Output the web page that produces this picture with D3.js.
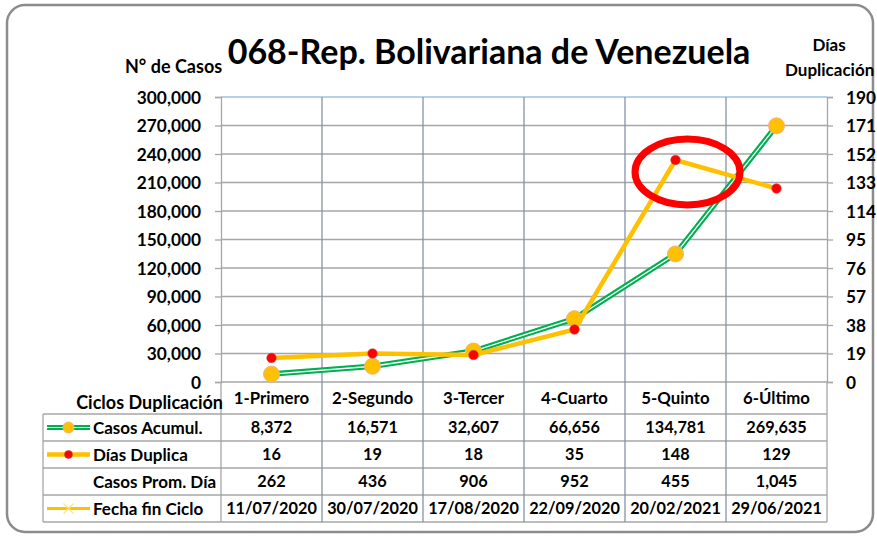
<!DOCTYPE html>
<html>
<head>
<meta charset="utf-8">
<script src="https://cdn.jsdelivr.net/npm/d3@7"></script>
<style>
  body { margin: 0; background: #fff; }
  svg text { font-family: Lato, "Liberation Sans", sans-serif; font-weight: bold; fill: #000; }
</style>
</head>
<body>
<script>
"use strict";

// chart data
const ciclos = ["1-Primero", "2-Segundo", "3-Tercer", "4-Cuarto", "5-Quinto", "6-Último"];
const casosAcumul = [8372, 16571, 32607, 66656, 134781, 269635];
const diasDuplica = [16, 19, 18, 35, 148, 129];
const casosPromDia = [262, 436, 906, 952, 455, 1045];
const fechaFinCiclo = ["11/07/2020", "30/07/2020", "17/08/2020", "22/09/2020", "20/02/2021", "29/06/2021"];
const leftTicks = [0, 30000, 60000, 90000, 120000, 150000, 180000, 210000, 240000, 270000, 300000];
const rightTicks = [0, 19, 38, 57, 76, 95, 114, 133, 152, 171, 190];
const rowNames = ["Casos Acumul.", "Días Duplica", "Casos Prom. Día", "Fecha fin Ciclo"];

var width = 877, height = 538;
var plotLeft = 221, plotRight = 827, plotTop = 97, plotBottom = 382;
var tableLeft = 43, tableTop = 414, tableBottom = 522;

var fmt = d3.format(",");

var svg = d3.select("body").append("svg")
    .attr("width", width)
    .attr("height", height);

// outer rounded frame
svg.append("rect")
    .attr("x", 7).attr("y", 5)
    .attr("width", 866).attr("height", 527)
    .attr("rx", 18).attr("ry", 18)
    .attr("fill", "#fff")
    .attr("stroke", "#8c8c8c")
    .attr("stroke-width", 2.5);

var x = d3.scaleBand().domain(ciclos).range([plotLeft, plotRight]);
var yL = d3.scaleLinear().domain([0, 300000]).range([plotBottom, plotTop]);
var yR = d3.scaleLinear().domain([0, 190]).range([plotBottom, plotTop]);
var rowY = d3.scaleBand().domain(rowNames).range([tableTop, tableBottom]);

// horizontal gridlines
svg.append("g").selectAll("line")
    .data(leftTicks)
  .enter().append("line")
    .attr("x1", plotLeft).attr("x2", plotRight)
    .attr("y1", d => yL(d)).attr("y2", d => yL(d))
    .attr("stroke", d => d === 300000 ? "#9dc3e6" : "#a6a6a6")
    .attr("stroke-width", 1.3);

// left axis
var axisL = svg.append("g")
    .attr("transform", "translate(" + plotLeft + ",0)")
    .call(d3.axisLeft(yL).tickValues(leftTicks).tickFormat(fmt).tickSize(6).tickPadding(14));
axisL.select(".domain").attr("stroke", "#a6a6a6").attr("stroke-width", 1.3);
axisL.selectAll(".tick line").attr("stroke", "#a6a6a6").attr("stroke-width", 1.3);
axisL.selectAll("text").style("font-size", "17.3px").attr("fill", "#000").attr("dy", "0.36em");

// right axis
var axisR = svg.append("g")
    .attr("transform", "translate(" + plotRight + ",0)")
    .call(d3.axisRight(yR).tickValues(rightTicks).tickSize(6).tickPadding(13));
axisR.select(".domain").attr("stroke", "#a6a6a6").attr("stroke-width", 1.3);
axisR.selectAll(".tick line").attr("stroke", "#a6a6a6").attr("stroke-width", 1.3);
axisR.selectAll("text").style("font-size", "17.3px").attr("fill", "#000").attr("dy", "0.36em");

// table horizontal borders
svg.append("g").selectAll("line")
    .data(rowNames.map(r => rowY(r)).concat([tableBottom]))
  .enter().append("line")
    .attr("x1", tableLeft).attr("x2", plotRight)
    .attr("y1", d => d).attr("y2", d => d)
    .attr("stroke", "#a6a6a6").attr("stroke-width", 1.3);

// vertical category separators (chart + table)
svg.append("g").selectAll("line")
    .data(ciclos.slice(1).map(c => x(c)))
  .enter().append("line")
    .attr("x1", d => d).attr("x2", d => d)
    .attr("y1", plotTop).attr("y2", tableBottom)
    .attr("stroke", "#8593a8").attr("stroke-width", 1.3);

svg.append("line")
    .attr("x1", plotLeft).attr("x2", plotLeft)
    .attr("y1", plotBottom).attr("y2", tableBottom)
    .attr("stroke", "#a6a6a6").attr("stroke-width", 1.3);
svg.append("line")
    .attr("x1", plotRight).attr("x2", plotRight)
    .attr("y1", plotBottom).attr("y2", tableBottom)
    .attr("stroke", "#a6a6a6").attr("stroke-width", 1.3);
svg.append("line")
    .attr("x1", tableLeft).attr("x2", tableLeft)
    .attr("y1", tableTop).attr("y2", tableBottom)
    .attr("stroke", "#a6a6a6").attr("stroke-width", 1.3);

// category header labels
svg.append("g").selectAll("text")
    .data(ciclos)
  .enter().append("text")
    .attr("x", d => x(d) + x.bandwidth() / 2)
    .attr("y", 404)
    .attr("text-anchor", "middle")
    .style("font-size", "16.8px")
    .text(d => d);

svg.append("text")
    .attr("x", 223).attr("y", 409)
    .attr("text-anchor", "end")
    .style("font-size", "18px")
    .text("Ciclos Duplicación");

// table cells
var tableRows = [
  casosAcumul.map(fmt),
  diasDuplica.map(String),
  casosPromDia.map(fmt),
  fechaFinCiclo
];
tableRows.forEach(function(vals, i) {
  svg.append("g").selectAll("text")
      .data(vals)
    .enter().append("text")
      .attr("x", (d, j) => x(ciclos[j]) + x.bandwidth() / 2)
      .attr("y", rowY(rowNames[i]) + rowY.bandwidth() / 2)
      .attr("dy", "0.36em")
      .attr("text-anchor", "middle")
      .style("font-size", "16.3px")
      .text(d => d);
});

// row labels
svg.append("g").selectAll("text")
    .data(rowNames)
  .enter().append("text")
    .attr("x", 93)
    .attr("y", d => rowY(d) + rowY.bandwidth() / 2)
    .attr("dy", "0.36em")
    .style("font-size", "17px")
    .text(d => d);

// legend keys
function keyY(name) { return rowY(name) + rowY.bandwidth() / 2; }
var k = svg.append("g");
k.append("line").attr("x1", 47).attr("x2", 90).attr("y1", keyY(rowNames[0])).attr("y2", keyY(rowNames[0]))
    .attr("stroke", "#00b050").attr("stroke-width", 5);
k.append("line").attr("x1", 47).attr("x2", 90).attr("y1", keyY(rowNames[0])).attr("y2", keyY(rowNames[0]))
    .attr("stroke", "#fff").attr("stroke-width", 1.2);
k.append("circle").attr("cx", 68.5).attr("cy", keyY(rowNames[0])).attr("r", 5.5)
    .attr("fill", "#ffc000").attr("stroke", "#f4b183").attr("stroke-width", 1);
k.append("line").attr("x1", 47).attr("x2", 90).attr("y1", keyY(rowNames[1])).attr("y2", keyY(rowNames[1]))
    .attr("stroke", "#ffc000").attr("stroke-width", 4.5);
k.append("circle").attr("cx", 68.5).attr("cy", keyY(rowNames[1])).attr("r", 4)
    .attr("fill", "#ff0000").attr("stroke", "#c0504d").attr("stroke-width", 0.6);
k.append("line").attr("x1", 47).attr("x2", 90).attr("y1", keyY(rowNames[3])).attr("y2", keyY(rowNames[3]))
    .attr("stroke", "#ffc000").attr("stroke-width", 3);
k.append("path")
    .attr("d", "M63.5," + (keyY(rowNames[3]) - 5) + "l10,10M63.5," + (keyY(rowNames[3]) + 5) + "l10,-10")
    .attr("stroke", "#ffe08a").attr("stroke-width", 1.3);

// series
var cx = d => x(d) + x.bandwidth() / 2;

var lineCasos = d3.line()
    .x((d, i) => cx(ciclos[i]))
    .y(d => yL(d));
var lineDias = d3.line()
    .x((d, i) => cx(ciclos[i]))
    .y(d => yR(d));

svg.append("path").datum(casosAcumul)
    .attr("d", lineCasos).attr("fill", "none")
    .attr("stroke", "#00b050").attr("stroke-width", 5.5);
svg.append("path").datum(casosAcumul)
    .attr("d", lineCasos).attr("fill", "none")
    .attr("stroke", "#fff").attr("stroke-width", 1.3);
svg.append("g").selectAll("circle")
    .data(casosAcumul)
  .enter().append("circle")
    .attr("cx", (d, i) => cx(ciclos[i]))
    .attr("cy", d => yL(d))
    .attr("r", 8)
    .attr("fill", "#ffc000")
    .attr("stroke", "#f4b183").attr("stroke-width", 1);

svg.append("path").datum(diasDuplica)
    .attr("d", lineDias).attr("fill", "none")
    .attr("stroke", "#ffc000").attr("stroke-width", 4.5)
    .attr("stroke-linejoin", "round");
svg.append("g").selectAll("circle")
    .data(diasDuplica)
  .enter().append("circle")
    .attr("cx", (d, i) => cx(ciclos[i]))
    .attr("cy", d => yR(d))
    .attr("r", 4.8)
    .attr("fill", "#ff0000")
    .attr("stroke", "#c0504d").attr("stroke-width", 0.6);

// red highlight ellipse around the 5th cycle peak
svg.append("ellipse")
    .attr("cx", cx(ciclos[4]) + 12)
    .attr("cy", yR(140))
    .attr("rx", 52.5).attr("ry", 33)
    .attr("fill", "none")
    .attr("stroke", "#ff0000").attr("stroke-width", 7);

// titles
svg.append("text")
    .attr("x", 489).attr("y", 64)
    .attr("text-anchor", "middle")
    .style("font-size", "34px")
    .text("068-Rep. Bolivariana de Venezuela");

svg.append("text")
    .attr("x", 125).attr("y", 73)
    .style("font-size", "18px")
    .text("N° de Casos");

svg.append("text")
    .attr("x", 829).attr("y", 51)
    .attr("text-anchor", "middle")
    .style("font-size", "17px")
    .text("Días");
svg.append("text")
    .attr("x", 785).attr("y", 76)
    .style("font-size", "17px")
    .text("Duplicación");
</script>
</body>
</html>
